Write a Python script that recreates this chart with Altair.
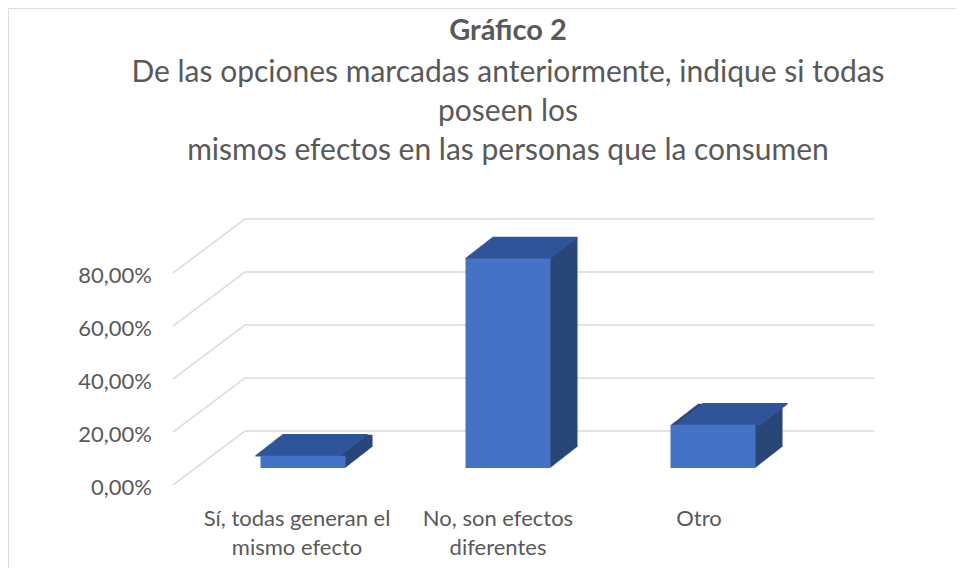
import altair as alt
import pandas as pd

# ---- data ----
categories = ["Sí, todas generan el\nmismo efecto", "No, son efectos\ndiferentes", "Otro"]
positions = [0, 1, 2]
values = [0.0465, 0.7907, 0.1628]
tick_values = [0.0, 0.2, 0.4, 0.6, 0.8]
tick_labels = ["0,00%", "20,00%", "40,00%", "60,00%", "80,00%"]

bars = pd.DataFrame({"cat": categories, "idx": positions, "value": values})
ticks = pd.DataFrame({"t": tick_values, "label": tick_labels})

FONT = "Lato"
TXT = "#595959"
GRID = "#D9D9D9"
FRONT = "#4472C4"
TOP = "#30559A"
SIDE = "#284677"

W, H = 948, 560
yscale = alt.Scale(domain=[0, 0.8], range=[477, 265], nice=False, zero=False)
xscale = alt.Scale(domain=[0, 2], range=[290, 710], nice=False, zero=False)
xscale_lbl = alt.Scale(domain=[0, 2], range=[289, 691], nice=False, zero=False)

BACK_DX, BACK_DY = 72, -54
DEPTH_X, DEPTH_Y = 27, 21
BASE = -17
BW = 85

layers = []

# side-wall gridlines (diagonal)
layers.append(
    alt.Chart(ticks).mark_rule(color=GRID, strokeWidth=1.5, y2Offset=BACK_DY).encode(
        x=alt.value(165), x2=alt.value(165 + BACK_DX),
        y=alt.Y("t:Q", scale=yscale, axis=None), y2=alt.Y2("t:Q"))
)
# back-wall gridlines
layers.append(
    alt.Chart(ticks).mark_rule(color=GRID, strokeWidth=1.5, yOffset=BACK_DY).encode(
        x=alt.value(165 + BACK_DX), x2=alt.value(866),
        y=alt.Y("t:Q", scale=yscale, axis=None))
)
# y labels
layers.append(
    alt.Chart(ticks).mark_text(align="right", baseline="middle", dy=3, font=FONT,
                               fontSize=22, color=TXT).encode(
        x=alt.value(144), y=alt.Y("t:Q", scale=yscale, axis=None), text="label:N")
)

# side extrusion
for i in range(1, DEPTH_X + 1):
    off = BASE - i * DEPTH_Y / DEPTH_X
    layers.append(
        alt.Chart(bars).mark_bar(width=BW, color=SIDE, xOffset=i, yOffset=off, y2Offset=off).encode(
            x=alt.X("idx:Q", scale=xscale, axis=None),
            y=alt.Y("value:Q", scale=yscale, axis=None), y2=alt.datum(0))
    )
# top face
for i in range(0, DEPTH_X + 1):
    off = BASE - i * DEPTH_Y / DEPTH_X
    layers.append(
        alt.Chart(bars).mark_rule(color=TOP, strokeWidth=1.6, xOffset=-BW / 2 + i,
                                  x2Offset=BW / 2 + i, yOffset=off, y2Offset=off).encode(
            x=alt.X("idx:Q", scale=xscale, axis=None), x2=alt.X2("idx:Q"),
            y=alt.Y("value:Q", scale=yscale, axis=None), y2=alt.Y2("value:Q"))
    )
# front face
layers.append(
    alt.Chart(bars).mark_bar(width=BW, color=FRONT, yOffset=BASE, y2Offset=BASE).encode(
        x=alt.X("idx:Q", scale=xscale, axis=None),
        y=alt.Y("value:Q", scale=yscale, axis=None), y2=alt.datum(0))
)
# category labels
layers.append(
    alt.Chart(bars).mark_text(align="center", baseline="alphabetic", lineBreak="\n",
                              lineHeight=29, font=FONT, fontSize=22, color=TXT).encode(
        x=alt.X("idx:Q", scale=xscale_lbl, axis=None), y=alt.value(518), text="cat:N")
)

chart = alt.layer(*layers).resolve_scale(x="independent").properties(
    width=W, height=H,
    autosize=alt.AutoSizeParams(type="none"),
    padding=0,
    title=alt.TitleParams(
        text="Gráfico 2",
        subtitle=["De las opciones marcadas anteriormente, indique si todas",
                  "poseen los",
                  "mismos efectos en las personas que la consumen"],
        anchor="middle", dx=26, offset=-158,
        font=FONT, fontSize=29, fontWeight="bold", color=TXT,
        subtitleFont=FONT, subtitleFontSize=30, subtitleColor=TXT,
        subtitleLineHeight=39, subtitlePadding=12,
    ),
).configure_view(stroke=GRID, strokeWidth=1.5).configure(background="white")

chart.save("out.html", embed_options={"renderer": "svg", "actions": False})
